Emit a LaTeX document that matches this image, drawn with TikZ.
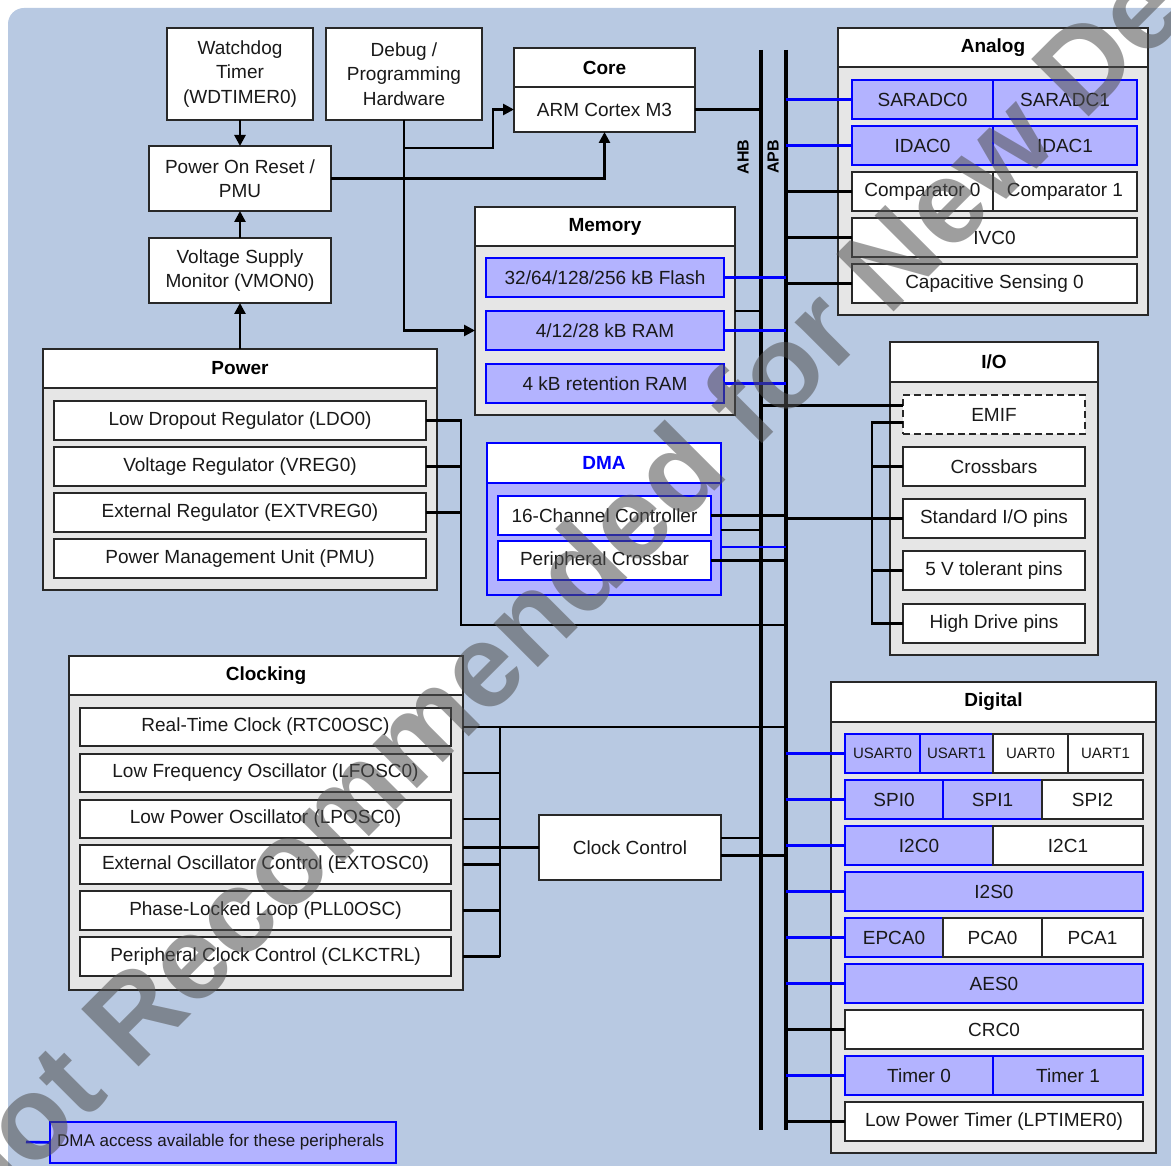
\documentclass[tikz,border=0pt]{standalone}
\usepackage{fontspec}
\setmainfont{Liberation Sans}
\usetikzlibrary{arrows.meta,calc}
\definecolor{bgblue}{RGB}{184,201,226}
\definecolor{pgray}{RGB}{230,230,230}
\definecolor{lav}{RGB}{179,179,255}
\definecolor{bdc}{RGB}{40,40,40}
\definecolor{lblue}{RGB}{0,0,255}
\definecolor{wmc}{RGB}{80,80,80}
\newcommand\fs{\fontsize{19}{24.5}\selectfont}
\newcommand\fsm{\fontsize{15}{18}\selectfont}
\newcommand\bx[7]{\node[#6, minimum width={#4-#2}, minimum height={#5-#3}, anchor=north west] (#1) at (#2,#3) {#7};}
\newcommand\mkpanel[9]{%
  \node[#8, minimum width={#4-#2}, minimum height={#5-#3}, anchor=north west] (#1) at (#2,#3) {};%
  \node[#9, minimum width={#4-#2}, minimum height={#6-#3}, anchor=north west] (#1h) at (#2,#3) {#7};}
\tikzset{
  bd/.style={draw=bdc, line width=1.6pt, inner sep=0pt, outer sep=0pt},
  wbox/.style={bd, fill=white, font=\fs, align=center, text=black!90},
  lbox/.style={draw=lblue, line width=1.6pt, inner sep=0pt, outer sep=0pt, fill=lav, font=\fs, align=center, text=black!90},
  dwbox/.style={lbox, fill=white},
  pbody/.style={bd, fill=pgray},
  phead/.style={bd, fill=white, font=\bfseries\fs},
  dbody/.style={draw=lblue, line width=1.6pt, inner sep=0pt, outer sep=0pt, fill=lav},
  dhead/.style={dbody, fill=white, font=\bfseries\fs, text=lblue},
  conn/.style={line width=2.6pt, black},
  dconn/.style={line width=2.6pt, lblue},
  busline/.style={line width=4pt, black},
  arr/.style={conn, -{Triangle[length=11pt,width=11pt]}},
}
\begin{document}
\begin{tikzpicture}[x=1pt,y=-1pt]
\useasboundingbox (0,0) rectangle (1171,1166);
\fill[white] (0,0) rectangle (1171,1166);
\fill[bgblue] (8,1166) [rounded corners=16pt] -- (8,8) [sharp corners] -- (1171,8) -- (1171,1166) -- cycle;

% top left blocks
\bx{wdt}{167}{28}{313}{120}{wbox}{Watchdog\\Timer\\(WDTIMER0)}
\bx{dbg}{326}{28}{482}{120}{wbox}{Debug /\\Programming\\Hardware}
\bx{coreh}{514}{48}{695}{87}{phead}{Core}
\bx{arm}{514}{87}{695}{132}{wbox}{ARM Cortex M3}
\bx{por}{149}{146}{331}{211}{wbox}{Power On Reset /\\PMU}
\bx{vsm}{149}{238}{331}{303}{wbox}{Voltage Supply\\Monitor (VMON0)}

% Power
\mkpanel{pwr}{43}{349}{437}{590}{388}{Power}{pbody}{phead}
\bx{ldo}{54}{401}{426}{440}{wbox}{Low Dropout Regulator (LDO0)}
\bx{vreg}{54}{447}{426}{486}{wbox}{Voltage Regulator (VREG0)}
\bx{extv}{54}{493}{426}{532}{wbox}{External Regulator (EXTVREG0)}
\bx{pmu}{54}{539}{426}{578}{wbox}{Power Management Unit (PMU)}

% Memory
\mkpanel{mem}{475}{207}{735}{415}{246}{Memory}{pbody}{phead}
\bx{flash}{486}{258}{724}{297}{lbox}{32/64/128/256 kB Flash}
\bx{ram}{486}{311}{724}{350}{lbox}{4/12/28 kB RAM}
\bx{rram}{486}{364}{724}{403}{lbox}{4 kB retention RAM}

% DMA
\mkpanel{dma}{487}{443}{721}{595}{483}{DMA}{dbody}{dhead}
\bx{ch16}{498}{496}{711}{535}{dwbox}{16-Channel Controller}
\bx{pxb}{498}{541}{711}{580}{dwbox}{Peripheral Crossbar}

% Analog
\mkpanel{ana}{838}{28}{1148}{315}{67}{Analog}{pbody}{phead}
\bx{sar0}{852}{80}{993}{119}{lbox}{SARADC0}
\bx{sar1}{993}{80}{1137}{119}{lbox}{SARADC1}
\bx{idac0}{852}{126}{993}{165}{lbox}{IDAC0}
\bx{idac1}{993}{126}{1137}{165}{lbox}{IDAC1}
\bx{cmp0}{852}{172}{993}{211}{wbox}{Comparator 0}
\bx{cmp1}{993}{172}{1137}{211}{wbox}{Comparator 1}
\bx{ivc}{852}{218}{1137}{257}{wbox}{IVC0}
\bx{cap}{852}{264}{1137}{303}{wbox}{Capacitive Sensing 0}

% I/O
\mkpanel{io}{890}{342}{1098}{655}{382}{I/O}{pbody}{phead}
\bx{emif}{903}{395}{1085}{434}{wbox,dashed,dash pattern=on 7pt off 4pt}{EMIF}
\bx{xbar}{903}{447}{1085}{486}{wbox}{Crossbars}
\bx{sio}{903}{499}{1085}{538}{wbox}{Standard I/O pins}
\bx{vtol}{903}{551}{1085}{590}{wbox}{5 V tolerant pins}
\bx{hd}{903}{604}{1085}{643}{wbox}{High Drive pins}

% Clocking
\mkpanel{clkp}{69}{656}{463}{990}{695}{Clocking}{pbody}{phead}
\bx{rtc}{80}{708}{451}{746}{wbox}{Real-Time Clock (RTC0OSC)}
\bx{lfo}{80}{754}{451}{792}{wbox}{Low Frequency Oscillator (LFOSC0)}
\bx{lpo}{80}{800}{451}{838}{wbox}{Low Power Oscillator (LPOSC0)}
\bx{exo}{80}{845}{451}{884}{wbox}{External Oscillator Control (EXTOSC0)}
\bx{pll}{80}{891}{451}{930}{wbox}{Phase-Locked Loop (PLL0OSC)}
\bx{pclk}{80}{937}{451}{976}{wbox}{Peripheral Clock Control (CLKCTRL)}
\bx{ccu}{539}{815}{721}{880}{wbox}{Clock Control}

% Digital
\mkpanel{dig}{831}{682}{1156}{1153}{722}{Digital}{pbody}{phead}
\bx{us0}{845}{734}{920}{773}{lbox,font=\fsm}{USART0}
\bx{us1}{920}{734}{993}{773}{lbox,font=\fsm}{USART1}
\bx{ua0}{993}{734}{1068}{773}{wbox,font=\fsm}{UART0}
\bx{ua1}{1068}{734}{1143}{773}{wbox,font=\fsm}{UART1}
\bx{spi0}{845}{780}{943}{819}{lbox}{SPI0}
\bx{spi1}{943}{780}{1042}{819}{lbox}{SPI1}
\bx{spi2}{1042}{780}{1143}{819}{wbox}{SPI2}
\bx{iic0}{845}{826}{993}{865}{lbox}{I2C0}
\bx{iic1}{993}{826}{1143}{865}{wbox}{I2C1}
\bx{iis}{845}{872}{1143}{911}{lbox}{I2S0}
\bx{epca}{845}{918}{943}{957}{lbox}{EPCA0}
\bx{pca0}{943}{918}{1042}{957}{wbox}{PCA0}
\bx{pca1}{1042}{918}{1143}{957}{wbox}{PCA1}
\bx{aes}{845}{964}{1143}{1003}{lbox}{AES0}
\bx{crc}{845}{1010}{1143}{1049}{wbox}{CRC0}
\bx{tm0}{845}{1056}{993}{1095}{lbox}{Timer 0}
\bx{tm1}{993}{1056}{1143}{1095}{lbox}{Timer 1}
\bx{lpt}{845}{1102}{1143}{1141}{wbox}{Low Power Timer (LPTIMER0)}

% Legend
\bx{leg}{50}{1122}{396}{1163}{lbox,font=\fontsize{17}{20}\selectfont}{}
\node[anchor=west, inner sep=0pt, font=\fontsize{17}{20}\selectfont, text=black!90] (legt) at (57,1142) {DMA access available for these peripherals};
\coordinate (legs) at (26,1142);
\draw[dconn] (legs) -- (leg.west);

% buses
\coordinate (ahbT) at (761,50);
\coordinate (ahbB) at (761,1130);
\coordinate (apbT) at (786,50);
\coordinate (apbB) at (786,1130);
\draw[busline] (ahbT) -- (ahbB);
\draw[busline] (apbT) -- (apbB);
\node[rotate=90, font=\bfseries\fontsize{16}{16}\selectfont] (ahbl) at (743,157) {AHB};
\node[rotate=90, font=\bfseries\fontsize{16}{16}\selectfont] (apbl) at (773,157) {APB};

% top-left arrows
\draw[arr] (wdt.south) -- (por.north);
\draw[arr] (vsm.north) -- (por.south);
\draw[arr] (pwrh.north) -- (vsm.south);
\coordinate (dbr) at (dbg.south |- 0,148);
\draw[arr] (dbg.south) |- (mem.west |- ram.west);
\draw[arr] (dbr) -| ($(arm.west)+(-21,0)$) -- (arm.west);
\draw[arr] (por.east) -| (arm.south);
\draw[conn] (arm.east) -- (arm.east -| ahbT);

% memory
\draw[dconn] (flash.east) -- (flash.east -| apbT);
\draw[dconn] (ram.east) -- (ram.east -| apbT);
\draw[dconn] (rram.east) -- (rram.east -| apbT);
\draw[conn] (mem.east |- ram.north) -- (ram.north -| ahbT);

% analog
\draw[dconn] (sar0.west -| apbT) -- (sar0.west);
\draw[dconn] (idac0.west -| apbT) -- (idac0.west);
\draw[conn] (cmp0.west -| apbT) -- (cmp0.west);
\draw[conn] (ivc.west -| apbT) -- (ivc.west);
\draw[conn] (cap.west -| apbT) -- (cap.west);

% I/O
\coordinate (emA) at ($(emif.west)+(0,-9)$);
\coordinate (emB) at ($(emif.west)+(0,8)$);
\coordinate (iob) at (872,0);
\draw[conn] (emA -| ahbT) -- (emA);
\draw[conn] (emB) -- (emB -| iob) -- (iob |- hd.west) -- (hd.west);
\draw[conn] (iob |- xbar.west) -- (xbar.west);
\draw[conn] (iob |- vtol.west) -- (vtol.west);
\draw[conn] (sio.west -| apbT) -- (sio.west);

% DMA
\coordinate (dA) at (721,530);
\coordinate (dB) at (721,547);
\draw[conn] (ch16.east) -- (ch16.east -| apbT);
\draw[conn] (dA) -- (dA -| ahbT);
\draw[dconn] (dB) -- (dB -| apbT);
\draw[conn] (pxb.east) -- (pxb.east -| apbT);

% power
\coordinate (pw) at (461,625);
\draw[conn] (ldo.east) -| (pw) -- (pw -| apbT);
\draw[conn] (vreg.east) -- (vreg.east -| pw);
\draw[conn] (extv.east) -- (extv.east -| pw);

% clocking
\coordinate (cb) at (500,0);
\draw[conn] (clkp.east |- rtc.east) -- (rtc.east -| apbT);
\draw[conn] (cb |- rtc.east) -- (cb |- pclk.east);
\draw[conn] (clkp.east |- lfo.east) -- (cb |- lfo.east);
\draw[conn] (clkp.east |- lpo.east) -- (cb |- lpo.east);
\draw[conn] (clkp.east |- exo.east) -- (cb |- exo.east);
\draw[conn] (clkp.east |- pll.east) -- (cb |- pll.east);
\draw[conn] (clkp.east |- pclk.east) -- (cb |- pclk.east);
\draw[conn] (clkp.east |- ccu.west) -- (ccu.west);
\coordinate (cA) at ($(ccu.east)+(0,-9.5)$);
\coordinate (cB) at ($(ccu.east)+(0,8)$);
\draw[conn] (cA) -- (cA -| ahbT);
\draw[conn] (cB) -- (cB -| apbT);

% digital
\draw[dconn] (us0.west -| apbT) -- (us0.west);
\draw[dconn] (spi0.west -| apbT) -- (spi0.west);
\draw[dconn] (iic0.west -| apbT) -- (iic0.west);
\draw[dconn] (iis.west -| apbT) -- (iis.west);
\draw[dconn] (epca.west -| apbT) -- (epca.west);
\draw[dconn] (aes.west -| apbT) -- (aes.west);
\draw[conn] (crc.west -| apbT) -- (crc.west);
\draw[dconn] (tm0.west -| apbT) -- (tm0.west);
\draw[conn] (lpt.west -| apbT) -- (lpt.west);

% watermark
\node[rotate=45, anchor=base west, inner sep=0pt, font=\bfseries\fontsize{118}{118}\selectfont, text=wmc, text opacity=0.55] (wm) at (-29,1235) {Not Recommended for New Designs};
\end{tikzpicture}
\end{document}
